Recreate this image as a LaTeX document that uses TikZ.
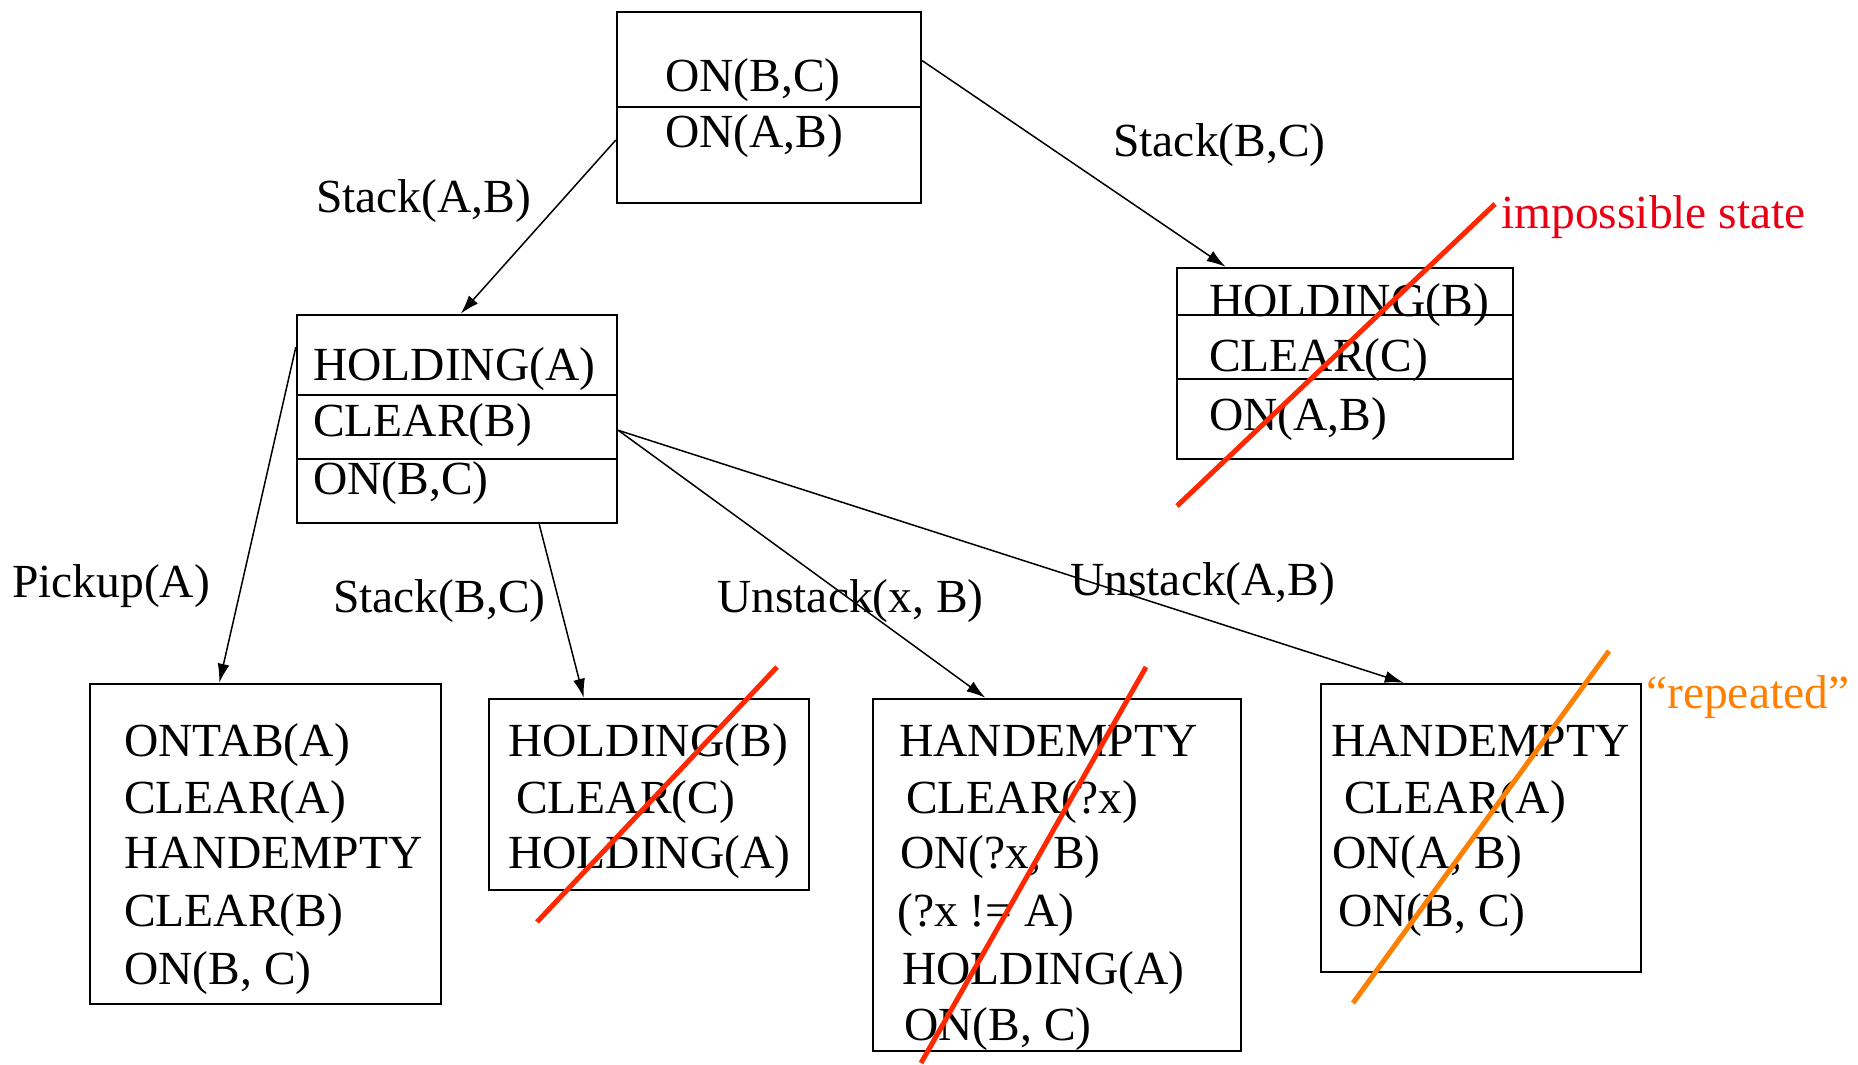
\documentclass[tikz,border=0pt]{standalone}
\usepackage{fontspec}
\setmainfont{Liberation Serif}
\usetikzlibrary{arrows.meta}
\definecolor{crossred}{RGB}{255,40,0}
\definecolor{notered}{RGB}{232,0,20}
\definecolor{crossorange}{RGB}{255,128,0}
\tikzset{
  statebox/.style={draw, line width=2.4pt, rectangle, inner sep=0pt},
  fact/.style={anchor=base west, inner sep=0pt},
  oplabel/.style={anchor=base west, inner sep=0pt},
  edge/.style={line width=1.5pt, -{Latex[length=19pt,width=12pt]}},
  divider/.style={line width=2.4pt},
  strike/.style={line width=5pt, crossred},
  strikeorange/.style={line width=5pt, crossorange},
  every node/.style={font=\fontsize{47.5}{57}\selectfont}
}
\begin{document}
\begin{tikzpicture}[x=1pt,y=-1pt]
\useasboundingbox (0,0) rectangle (1858,1065);

% goal stack
\node[statebox, minimum width=304pt, minimum height=191pt] (goal) at (769,107.5) {};
\draw[divider] (goal.west |- 0,107) -- (goal.east |- 0,107);
\node[fact] (g1) at (665,92) {ON(B,C)};
\node[fact] (g2) at (665,147) {ON(A,B)};

% after Stack(A,B)
\node[statebox, minimum width=320pt, minimum height=208pt] (hold) at (457,419) {};
\draw[divider] (hold.west |- 0,395) -- (hold.east |- 0,395);
\draw[divider] (hold.west |- 0,459) -- (hold.east |- 0,459);
\node[fact] (h1) at (313,380) {HOLDING(A)};
\node[fact] (h2) at (313,436) {CLEAR(B)};
\node[fact] (h3) at (313,494) {ON(B,C)};

% after Stack(B,C)
\node[statebox, minimum width=336pt, minimum height=191pt] (imp) at (1345,363.5) {};
\draw[divider] (imp.west |- 0,315) -- (imp.east |- 0,315);
\draw[divider] (imp.west |- 0,379) -- (imp.east |- 0,379);
\node[fact] (i1) at (1209,316) {HOLDING(B)};
\node[fact] (i2) at (1209,371) {CLEAR(C)};
\node[fact] (i3) at (1209,430) {ON(A,B)};

% bottom row
\node[statebox, minimum width=351pt, minimum height=320pt] (pick) at (265.5,844) {};
\node[fact] at (124,756) {ONTAB(A)};
\node[fact] at (124,813) {CLEAR(A)};
\node[fact] at (124,868) {HANDEMPTY};
\node[fact] at (124,926) {CLEAR(B)};
\node[fact] at (124,984) {ON(B, C)};

\node[statebox, minimum width=320pt, minimum height=191pt] (stk) at (649,794.5) {};
\node[fact] at (508,756) {HOLDING(B)};
\node[fact] at (516,813) {CLEAR(C)};
\node[fact] at (508,868) {HOLDING(A)};

\node[statebox, minimum width=368pt, minimum height=352pt] (unx) at (1057,875) {};
\node[fact] at (899,756) {HANDEMPTY};
\node[fact] at (906,813) {CLEAR(?x)};
\node[fact] at (900,868) {ON(?x, B)};
\node[fact] at (897,926) {(?x != A)};
\node[fact] at (902,984) {HOLDING(A)};
\node[fact] at (904,1040) {ON(B, C)};

\node[statebox, minimum width=320pt, minimum height=288pt] (unab) at (1481,828) {};
\node[fact] at (1331,756) {HANDEMPTY};
\node[fact] at (1344,813) {CLEAR(A)};
\node[fact] at (1332,868) {ON(A, B)};
\node[fact] at (1338,926) {ON(B, C)};

% operators
\draw[edge] (goal.192) -- (hold.88);
\draw[edge] (goal.17.6) -- (imp.141);
\draw[edge] (hold.156) -- (pick.106.6);
\draw[edge] (hold.308) -- (stk.124);
\draw[edge] (hold.356) -- (unx.112.3);
\draw[edge] (hold.356) -- (unab.118.7);

\node[oplabel] (lab1) at (316,212) {Stack(A,B)};
\node[oplabel] (lab2) at (1113,156) {Stack(B,C)};
\node[oplabel] (lab3) at (12,597) {Pickup(A)};
\node[oplabel] (lab4) at (333,612) {Stack(B,C)};
\node[oplabel] (lab5) at (717,612) {Unstack(x, B)};
\node[oplabel] (lab6) at (1070,595) {Unstack(A,B)};

% rejected states
\draw[strike] (1177,506) -- (1495,204);
\node[oplabel, text=notered] (note1) at (1501,228) {impossible state};
\draw[strike] (537,922) -- (777,667);
\draw[strike] (921,1063) -- (1146,667);
\draw[strikeorange] (1353,1003) -- (1609,651);
\node[oplabel, text=crossorange] (note2) at (1646,708) {“repeated”};
\end{tikzpicture}
\end{document}
